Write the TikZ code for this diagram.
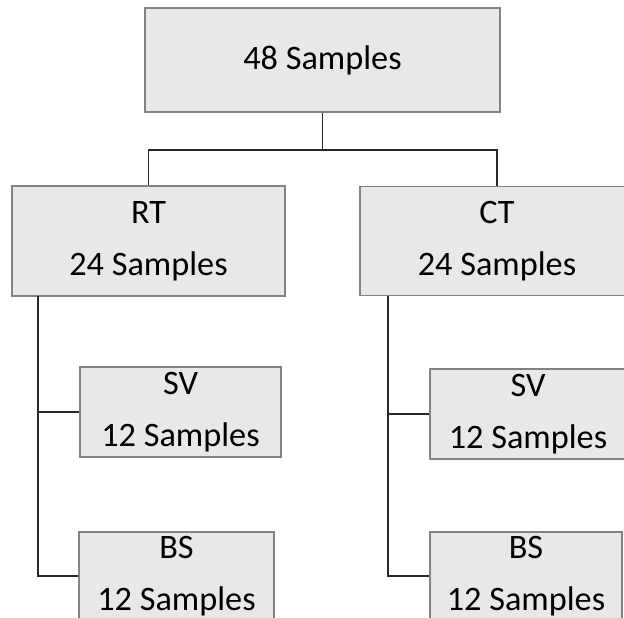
\documentclass[tikz,border=0pt]{standalone}
\usepackage{fontspec}
\setmainfont{Carlito}
\usepackage{xcolor}
\usepackage{tikz}
\usetikzlibrary{positioning}
\usetikzlibrary{calc}
\definecolor{fond}{RGB}{232,232,232}
\definecolor{bord}{RGB}{130,130,130}
\definecolor{trait}{RGB}{40,40,40}
\tikzstyle{groupe}=[
        rectangle,
        draw=bord,
        line width=0.8pt,
        fill=fond,
        align=center,
        inner sep=0pt,
        font=\fontsize{19.5}{29.6}\selectfont
]
\tikzstyle{lien}=[draw=trait,line width=1.1pt]

\begin{document}
\begin{tikzpicture}
\useasboundingbox (0,0) rectangle (12.48,-12.34);
\clip (0,0) rectangle (12.48,-12.34);
\node[groupe,minimum width=7.1cm,minimum height=2.08cm] (total) at (6.45,-1.2) {48 Samples};
\node[groupe,minimum width=5.46cm,minimum height=2.2cm] (rt) at (2.97,-4.82) {RT\\24 Samples};
\node[groupe,minimum width=5.48cm,minimum height=2.18cm] (ct) at (9.94,-4.82) {CT\\24 Samples};
\node[groupe,minimum width=4.02cm,minimum height=1.8cm] (svrt) at (3.61,-8.24) {SV\\12 Samples};
\node[groupe,minimum width=3.9cm,minimum height=1.76cm] (bsrt) at (3.53,-11.52) {BS\\12 Samples};
\node[groupe,minimum width=3.92cm,minimum height=1.8cm] (svct) at (10.56,-8.28) {SV\\12 Samples};
\node[groupe,minimum width=3.84cm,minimum height=1.76cm] (bsct) at (10.52,-11.52) {BS\\12 Samples};
\coordinate (fourche) at (6.45,-3.0);
\coordinate (piedrt) at (0.76,-5.92);
\coordinate (piedct) at (7.76,-5.91);
%Placementdesliens
\draw[lien] (total) -- (fourche);
\draw[lien] (fourche) -| (rt);
\draw[lien] (fourche) -| (ct);
\draw[lien] (piedrt) |- (svrt);
\draw[lien] (piedrt) |- (bsrt);
\draw[lien] (piedct) |- (svct);
\draw[lien] (piedct) |- (bsct);
\end{tikzpicture}
\end{document}
